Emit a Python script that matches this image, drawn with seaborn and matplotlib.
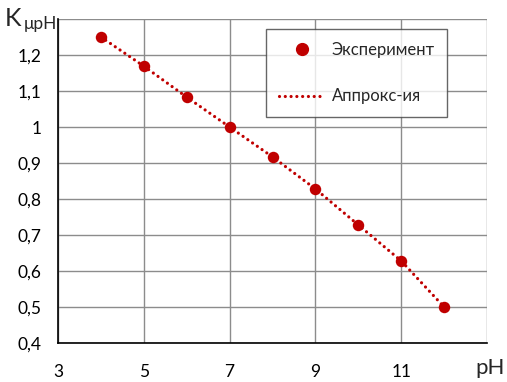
import matplotlib
matplotlib.use("Agg")
import matplotlib.pyplot as plt
import seaborn as sns
import pandas as pd
from matplotlib.lines import Line2D

ph = [4, 5, 6, 7, 8, 9, 10, 11, 12]
k_exp = [1.25, 1.169, 1.083, 1.0, 0.917, 0.828, 0.728, 0.628, 0.50]
k_approx = [1.25, 1.169, 1.083, 1.0, 0.917, 0.828, 0.728, 0.628, 0.50]
x_ticks = [3, 5, 7, 9, 11]
y_ticks = [0.4, 0.5, 0.6, 0.7, 0.8, 0.9, 1.0, 1.1, 1.2]
y_labels = ["0,4", "0,5", "0,6", "0,7", "0,8", "0,9", "1", "1,1", "1,2"]
x_labels = ["3", "5", "7", "9", "11"]

sns.set_style("white")
plt.rcParams['font.family'] = ['Lato', 'DejaVu Sans']

df = pd.DataFrame({"pH": ph, "exp": k_exp, "approx": k_approx})
red = "#C00000"
dots = (0, (0.01, 1.8))

fig = plt.figure(figsize=(5.07, 3.82), dpi=100)
ax = fig.add_axes([58/507, 1-343/382, (487-58)/507, (343-19)/382])

sns.lineplot(data=df, x="pH", y="approx", ax=ax, color=red, linewidth=2.3,
             linestyle=dots, dash_capstyle="round", zorder=2)
sns.scatterplot(data=df, x="pH", y="exp", ax=ax, color=red, s=68,
                edgecolor=red, linewidth=0, zorder=3)

ax.set_xlim(3, 13)
ax.set_ylim(0.4, 1.3)
ax.set_xticks(x_ticks + [13])
ax.set_xticklabels(x_labels + [""])
ax.set_yticks(y_ticks + [1.3])
ax.set_yticklabels(y_labels + [""])
ax.grid(True, color="#8c8c8c", linewidth=1.0)
ax.set_axisbelow(True)
for s in ["top", "right"]:
    ax.spines[s].set_visible(False)
for s in ["left", "bottom"]:
    ax.spines[s].set_color("black")
    ax.spines[s].set_linewidth(1.2)
ax.tick_params(axis="both", length=0, labelsize=12.5, colors="black")
ax.tick_params(axis="x", pad=15)
ax.tick_params(axis="y", pad=12)
ax.set_xlabel("")
ax.set_ylabel("")

fig.text(475/507, 1-368/382, "pH", fontsize=16, va="center", ha="left")
fig.text(5/507, 1-18/382, "K", fontsize=18, va="center", ha="left")
fig.text(24/507, 1-24/382, "μpH", fontsize=12.5, va="center", ha="left")

handles = [
    Line2D([], [], marker="o", color=red, linestyle="none", markersize=8.5),
    Line2D([], [], color=red, linewidth=2.3, linestyle=dots,
           dash_capstyle="round"),
]
leg = ax.legend(handles, ["Эксперимент", "Аппрокс-ия"], loc="upper left",
                bbox_to_anchor=((266-58)/429, (343-29)/324), frameon=True,
                fancybox=False, edgecolor="#404040", fontsize=12,
                labelspacing=1.85, borderpad=0.75, handlelength=2.8,
                handletextpad=0.4, borderaxespad=0)
leg.get_frame().set_linewidth(1.0)

fig.savefig("out.png", dpi=100)
